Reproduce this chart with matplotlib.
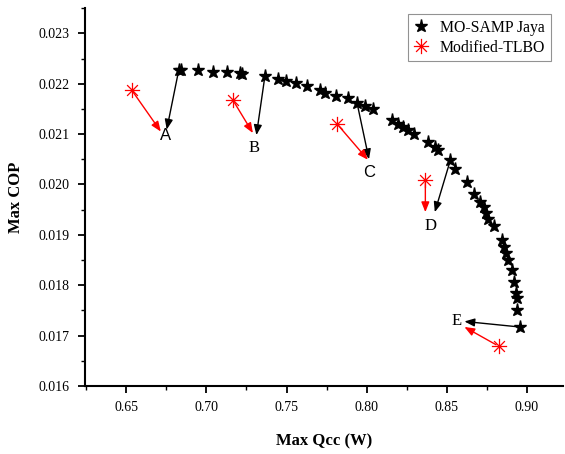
import matplotlib
matplotlib.use("Agg")
import matplotlib.pyplot as plt
from matplotlib.path import Path
from matplotlib.ticker import MultipleLocator, FormatStrFormatter

jaya_q = [0.6827, 0.6840, 0.6946, 0.7040, 0.7128, 0.7209, 0.7222, 0.7365, 0.7447, 0.7497,
          0.7559, 0.7628, 0.7710, 0.7741, 0.7810, 0.7885, 0.7941, 0.7991, 0.8041, 0.8160,
          0.8198, 0.8229, 0.8260, 0.8298, 0.8385, 0.8429, 0.8448, 0.8523, 0.8554, 0.8629,
          0.8673, 0.8711, 0.8736, 0.8748, 0.8761, 0.8798, 0.8848, 0.8861, 0.8873, 0.8886,
          0.8911, 0.8923, 0.8936, 0.8942, 0.8942, 0.8955]
jaya_cop = [0.02227, 0.02227, 0.02227, 0.02223, 0.02223, 0.02221, 0.02219, 0.02215, 0.02209, 0.02205,
            0.02201, 0.02195, 0.02187, 0.02181, 0.02175, 0.02171, 0.02161, 0.02155, 0.02149, 0.02127,
            0.02120, 0.02114, 0.02108, 0.02100, 0.02084, 0.02074, 0.02068, 0.02048, 0.02030, 0.02005,
            0.01981, 0.01965, 0.01955, 0.01943, 0.01931, 0.01917, 0.01890, 0.01876, 0.01864, 0.01850,
            0.01830, 0.01806, 0.01784, 0.01775, 0.01751, 0.01717]

tlbo_q = [0.6534, 0.7166, 0.7816, 0.8367, 0.8824]
tlbo_cop = [0.02187, 0.02167, 0.02120, 0.02008, 0.01679]

labels = ["A", "B", "C", "D", "E"]
label_q = [0.6746, 0.7298, 0.8017, 0.8398, 0.8561]
label_cop = [0.02098, 0.02072, 0.02024, 0.01917, 0.01729]
label_fonts = ["Liberation Sans", "Liberation Serif", "Liberation Sans", "Liberation Serif", "Liberation Serif"]
# jaya point each black arrow starts from (index into jaya arrays)
jaya_idx = [0, 7, 16, 27, 45]
# arrow tip positions
black_tip_q = [0.6752, 0.7312, 0.8015, 0.8426, 0.8611]
black_tip_cop = [0.02109, 0.02098, 0.02050, 0.01945, 0.01728]
red_tip_q = [0.6715, 0.7290, 0.8008, 0.8367, 0.8611]
red_tip_cop = [0.02105, 0.02102, 0.02049, 0.01945, 0.01717]

plt.rcParams['font.family'] = ['Liberation Serif', 'DejaVu Serif']

fig = plt.figure(figsize=(5.65, 4.54), dpi=100)
ax = fig.add_axes([0.150, 0.150, 0.846, 0.832])

ast = Path([(-1, 0), (1, 0), (0, -1), (0, 1), (-0.707, -0.707), (0.707, 0.707), (-0.707, 0.707), (0.707, -0.707)],
           [Path.MOVETO, Path.LINETO] * 4)

ax.plot(jaya_q, jaya_cop, linestyle='none', marker='*', markersize=9.5, color='black',
        label='MO-SAMP Jaya', zorder=3)
ax.plot(tlbo_q, tlbo_cop, linestyle='none', marker=ast, markersize=11, markerfacecolor='none',
        markeredgecolor='red', markeredgewidth=0.9, label='Modified-TLBO', zorder=3)

for i in range(5):
    j = jaya_idx[i]
    ax.annotate("", xy=(black_tip_q[i], black_tip_cop[i]), xytext=(jaya_q[j], jaya_cop[j]),
                arrowprops=dict(arrowstyle='-|>,head_length=0.5,head_width=0.2', color='black', lw=1.0,
                                mutation_scale=12, shrinkA=2, shrinkB=0), zorder=2)
    ax.annotate("", xy=(red_tip_q[i], red_tip_cop[i]), xytext=(tlbo_q[i], tlbo_cop[i]),
                arrowprops=dict(arrowstyle='-|>,head_length=0.5,head_width=0.2', color='red', lw=1.0,
                                mutation_scale=12, shrinkA=2, shrinkB=0), zorder=2)
    ax.text(label_q[i], label_cop[i], labels[i], fontsize=12, family=[label_fonts[i]],
            ha='center', va='center')

ax.set_xlim(0.624, 0.9225)
ax.set_ylim(0.016, 0.0235)
ax.xaxis.set_major_locator(MultipleLocator(0.05))
ax.xaxis.set_minor_locator(MultipleLocator(0.025))
ax.yaxis.set_major_locator(MultipleLocator(0.001))
ax.yaxis.set_minor_locator(MultipleLocator(0.0005))
ax.xaxis.set_major_formatter(FormatStrFormatter('%.2f'))
ax.yaxis.set_major_formatter(FormatStrFormatter('%.3f'))

for s in ['top', 'right']:
    ax.spines[s].set_visible(False)
for s in ['left', 'bottom']:
    ax.spines[s].set_linewidth(1.5)
ax.tick_params(which='major', direction='out', length=5, width=1.3, labelsize=10, pad=6)
ax.tick_params(which='minor', direction='out', length=3, width=1.0)

ax.set_xlabel('Max Qcc (W)', fontsize=12, fontweight='bold', labelpad=14)
ax.set_ylabel('Max COP', fontsize=12, fontweight='bold', labelpad=10)

leg = ax.legend(loc='upper right', bbox_to_anchor=(0.975, 0.984), borderaxespad=0, fontsize=11.3,
                frameon=True, fancybox=False, edgecolor='#777777', handlelength=1.0,
                handletextpad=0.7, borderpad=0.35, labelspacing=0.25)
leg.get_frame().set_linewidth(0.8)

fig.savefig('out.png', dpi=100)
